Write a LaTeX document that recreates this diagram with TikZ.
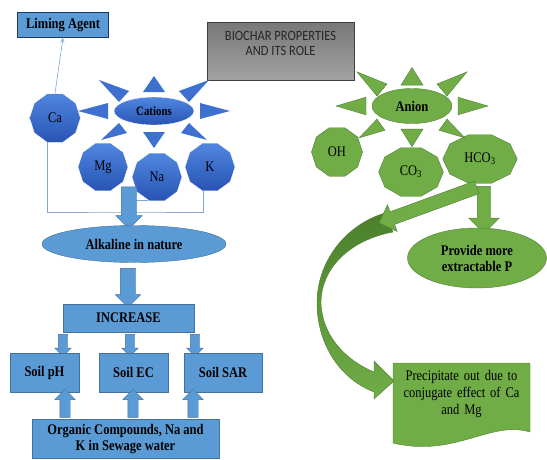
\documentclass[tikz,border=0pt]{standalone}
\usepackage{fontspec}
\setmainfont{Liberation Serif}[FakeStretch=0.85]
\newfontfamily\calibri{Carlito}[FakeStretch=0.88]
\usetikzlibrary{shapes.geometric,shapes.arrows,arrows,positioning}
\definecolor{bluefill}{RGB}{91,155,213}
\definecolor{blueline}{RGB}{65,113,156}
\definecolor{navyline}{RGB}{31,56,100}
\definecolor{cationtop}{RGB}{80,134,224}
\definecolor{cationbot}{RGB}{40,84,180}
\definecolor{rayblue}{RGB}{62,112,208}
\definecolor{linkblue}{RGB}{130,166,210}
\definecolor{greenfill}{RGB}{112,173,71}
\definecolor{greenline}{RGB}{80,126,50}
\definecolor{greendark}{RGB}{76,128,44}
\definecolor{graytop}{RGB}{120,120,120}
\definecolor{graybot}{RGB}{162,162,162}
\tikzset
{
	bluebox/.style = {rectangle, draw=blueline, fill=bluefill, align=center, font=\fontsize{14.7}{16}\selectfont\bfseries},
	cationpoly/.style = {regular polygon, regular polygon sides=10, top color=cationtop, bottom color=cationbot, draw=white, minimum size=51, inner sep=0pt, font=\fontsize{14.7}{16}\selectfont},
	anionpoly/.style = {regular polygon, regular polygon sides=10, draw=greenline, fill=greenfill, minimum size=51, inner sep=0pt},
	bluearrow/.style = {single arrow, draw=blueline, fill=bluefill, inner xsep=0pt},
	greenarrow/.style = {single arrow, draw=greenline, fill=greenfill, inner xsep=0pt},
	polytext/.style = {font=\fontsize{14.7}{16}\selectfont},
	link/.style = {draw=linkblue, line width=0.6pt}
}
\newcommand{\sunrays}[3]{
	\begin{scope}[shift={(#1)}, yscale=#3]
	\foreach \tx/\ty/\ax/\ay/\bx/\by in {76/0/46/-8/46/8, -76/0/-46/-8/-46/8, 0/-35/-11/-19/11/-19, 0/37/-11/21/11/21, 55/-31/25/-20/35/-9, -55/-31/-25/-20/-35/-9, 53/29/35/12/27/22, -53/29/-35/12/-27/22}
		\fill[#2] (\tx,\ty) -- (\ax,\ay) -- (\bx,\by) -- cycle;
	\end{scope}
}

\begin{document}
\begin{tikzpicture}[x=1pt, y=-1pt]
\useasboundingbox (0,0) rectangle (547,459);

% title
\node[rectangle, draw=black!75, top color=graytop, bottom color=graybot, minimum width=147, minimum height=58, align=center, text=black!85, font=\calibri\fontsize{14.2}{15}\selectfont] (biochar) at (280.5,51) {BIOCHAR PROPERTIES\\AND ITS ROLE\\\mbox{}};

% cations
\node[bluebox, draw=navyline, minimum width=91, minimum height=25] (liming) at (63,25) {Liming Agent};
\node[cationpoly] (ca) at (55,118) {Ca};
\node[cationpoly, minimum size=50] (mg) at (103,167) {Mg};
\node[cationpoly, minimum size=50] (na) at (157,177) {Na};
\node[cationpoly, minimum size=50] (k) at (210,167) {K};
\node[ellipse, top color=cationtop, bottom color=cationbot, draw=white, minimum width=80, minimum height=28, inner sep=0pt, font=\fontsize{12.8}{14}\selectfont\bfseries] (cations) at (154,111) {Cations};
\sunrays{cations.center}{fill=rayblue}{1}
\draw[link, ->, >=angle 45] (ca.north) -- (liming.south);
\coordinate (join) at (129,212);
\draw[link] ([xshift=-8pt]ca.south) |- (join) -| ([xshift=-7pt]k.south);
\draw[link] (na.250) -- ++(-16,0);
\node[bluearrow, minimum height=42, inner ysep=7.5, single arrow head extend=5.5, rotate=-90] (catarrow) at (129,204) {};

% alkaline side
\node[ellipse, draw=blueline, fill=bluefill, minimum width=184, minimum height=37, font=\fontsize{14.7}{16}\selectfont\bfseries] (alkaline) at (134,244) {Alkaline in nature};
\node[bluearrow, minimum height=39, inner ysep=7.5, single arrow head extend=5, rotate=-90] (alkarrow) at (128,284) {};
\node[bluebox, minimum width=131, minimum height=28] (increase) at (128.5,318) {INCREASE};
\node[bluearrow, minimum height=22, inner ysep=4.5, single arrow head extend=3.5, rotate=-90] (pharrow) at (63,343) {};
\node[bluearrow, minimum height=22, inner ysep=4.5, single arrow head extend=3.5, rotate=-90] (ecarrow) at (130,343) {};
\node[bluearrow, minimum height=22, inner ysep=4.5, single arrow head extend=3.5, rotate=-90] (sararrow) at (195,343) {};
\node[bluebox, minimum width=69, minimum height=39] (soilph) at (44.5,372.5) {Soil pH};
\node[bluebox, minimum width=69, minimum height=39] (soilec) at (133.5,372.5) {Soil EC};
\node[bluebox, minimum width=78, minimum height=39] (soilsar) at (223,372.5) {Soil SAR};
\node[bluearrow, minimum height=28, inner ysep=5, single arrow head extend=5, rotate=90] (phup) at (65,406) {};
\node[bluearrow, minimum height=28, inner ysep=5, single arrow head extend=5, rotate=90] (ecup) at (133,406) {};
\node[bluearrow, minimum height=28, inner ysep=5, single arrow head extend=5, rotate=90] (sarup) at (193,406) {};
\node[bluebox, minimum width=187, minimum height=39] (organic) at (125.5,439) {Organic Compounds, Na and\\K in Sewage water};

% anions
\node[anionpoly] (oh) at (337,152) {};
\node[polytext] (ohtext) at (oh) {OH};
\begin{scope}[shift={(411,172)}, xscale=1.27]
	\node[anionpoly, transform shape] (co) {};
\end{scope}
\node[polytext] (cotext) at (co) {CO\textsubscript{3}};
\begin{scope}[shift={(480,159)}, xscale=1.46]
	\node[anionpoly, transform shape] (hco) {};
\end{scope}
\node[polytext] (hcotext) at (hco) {HCO\textsubscript{3}};
\node[ellipse, draw=greenline, fill=greenfill, minimum width=80, minimum height=35, inner sep=0pt, font=\fontsize{14.7}{16}\selectfont\bfseries] (anion) at (412,106) {Anion};
\sunrays{anion.center}{fill=greenfill, draw=greenline}{1.1}

% precipitate
\fill[greenfill, draw=greenline] (393,363) -- (530,363) -- (530,432) .. controls (490,420) and (455,458) .. (393,443) -- cycle;
\node[align=center, text width=135, font=\fontsize{14.7}{17}\selectfont] (precip) at (461.5,394) {Precipitate out due to\\conjugate effect of Ca\\and Mg};
\shade[top color=greendark, bottom color=greenfill, draw=greenline] (385,213) .. controls (345,225) and (317,262) .. (317,303) .. controls (317,342) and (338,378) .. (374,392) -- (374,399) -- (394,381) -- (374,361) -- (374,372) .. controls (345,360) and (322,335) .. (321,303) .. controls (321,268) and (350,240) .. (393,232) -- cycle;

\node[greenarrow, minimum height=47, inner ysep=6.5, single arrow head extend=8.5, rotate=-90] (parrow) at (484,206.5) {};
\node[ellipse, draw=greenline, fill=greenfill, minimum width=139, minimum height=60, align=center, font=\fontsize{14.7}{16}\selectfont\bfseries] (provide) at (477,258) {Provide more\\extractable P};
\node[greenarrow, minimum height=104, inner ysep=6.5, single arrow head extend=7.5, rotate=200] (diagarrow) at (431,204) {};
\end{tikzpicture}
\end{document}
